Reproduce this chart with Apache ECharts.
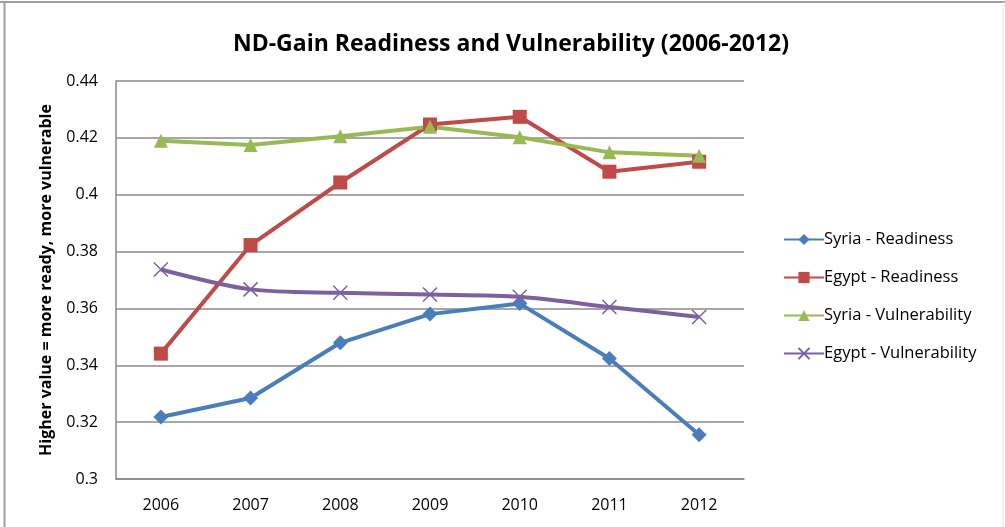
<!DOCTYPE html>
<html><head><meta charset="utf-8">
<script src="https://cdn.jsdelivr.net/npm/echarts@6/dist/echarts.min.js"></script>
<style>html,body{margin:0;padding:0;background:#fff}#c{width:1005px;height:527px}</style>
</head><body><div id="c"></div>
<script>
var years = ['2006','2007','2008','2009','2010','2011','2012'];
var syriaReadiness = [0.3218, 0.3285, 0.3479, 0.3580, 0.3617, 0.3424, 0.3156];
var egyptReadiness = [0.3441, 0.3823, 0.4043, 0.4247, 0.4274, 0.4081, 0.4116];
var syriaVulnerability = [0.4190, 0.4175, 0.4206, 0.4239, 0.4202, 0.4149, 0.4137];
var egyptVulnerability = [0.3737, 0.3667, 0.3655, 0.3649, 0.3641, 0.3605, 0.3570];
var yTicks = ['0.3','0.32','0.34','0.36','0.38','0.4','0.42','0.44'];

var font = '"Open Sans", "DejaVu Sans", sans-serif';
var chart = echarts.init(document.getElementById('c'));
function ser(name, data, color, symbol, size, smooth) {
  return {
    name: name, type: 'line', data: data, smooth: smooth || false,
    symbol: symbol, symbolSize: size,
    lineStyle: {color: color, width: 4},
    itemStyle: {color: color, borderColor: color, borderWidth: 0},
    emphasis: {disabled: true}
  };
}
var xPath = 'path://M0,0 L10,10 M10,0 L0,10';
var option = {
  animation: false,
  title: {
    text: 'ND-Gain Readiness and Vulnerability (2006-2012)',
    left: 506, top: 28, textAlign: 'center',
    textStyle: {fontFamily: font, fontWeight: 'bold', fontSize: 23, color: '#000'}
  },
  grid: {left: 116, top: 81, width: 628, height: 398, containLabel: false},
  legend: {
    orient: 'vertical', left: 778, top: 226, itemGap: 21, itemWidth: 40, itemHeight: 14,
    textStyle: {fontFamily: font, fontSize: 16.5, color: '#000', padding: [0,0,0,-5]},
    data: ['Syria - Readiness','Egypt - Readiness','Syria - Vulnerability','Egypt - Vulnerability']
  },
  xAxis: {
    type: 'category', data: years, boundaryGap: true,
    axisLine: {lineStyle: {color: '#888', width: 1.5}},
    axisTick: {show: false},
    axisLabel: {fontFamily: font, fontSize: 16, color: '#000', margin: 18}
  },
  yAxis: {
    type: 'value', min: 0.3, max: 0.44, interval: 0.02,
    name: 'Higher value = more ready, more vulnerable',
    nameLocation: 'middle', nameGap: 62, nameRotate: 90,
    nameTextStyle: {fontFamily: font, fontWeight: 'bold', fontSize: 16, color: '#000'},
    axisLine: {show: true, lineStyle: {color: '#888', width: 1.5}},
    axisTick: {show: false},
    splitLine: {lineStyle: {color: '#8a8a8a', width: 1.5}},
    axisLabel: {fontFamily: font, fontSize: 16, color: '#000', margin: 18,
      formatter: function(v){ var i = Math.round((v-0.3)/0.02); return yTicks[i]; }}
  },
  graphic: [
    {type: 'line', shape: {x1: 0, y1: 2, x2: 1005, y2: 2}, style: {stroke: '#a0a0a0', lineWidth: 2}},
    {type: 'line', shape: {x1: 4.5, y1: 2, x2: 4.5, y2: 527}, style: {stroke: '#a0a0a0', lineWidth: 2}},
    {type: 'line', shape: {x1: 1003, y1: 2, x2: 1003, y2: 527}, style: {stroke: '#e4e4e4', lineWidth: 1}}
  ],
  series: [
    ser('Syria - Readiness', syriaReadiness, '#4A7EBB', 'diamond', 15),
    ser('Egypt - Readiness', egyptReadiness, '#BE4B48', 'rect', 14),
    ser('Syria - Vulnerability', syriaVulnerability, '#98B954', 'triangle', 14),
    {
      name: 'Egypt - Vulnerability', type: 'line', data: egyptVulnerability, smooth: 0.3,
      symbol: xPath, symbolSize: 14,
      lineStyle: {color: '#7D60A0', width: 4},
      itemStyle: {color: 'none', borderColor: '#7D60A0', borderWidth: 1.5},
      emphasis: {disabled: true}
    }
  ]
};
chart.setOption(option);
</script></body></html>
